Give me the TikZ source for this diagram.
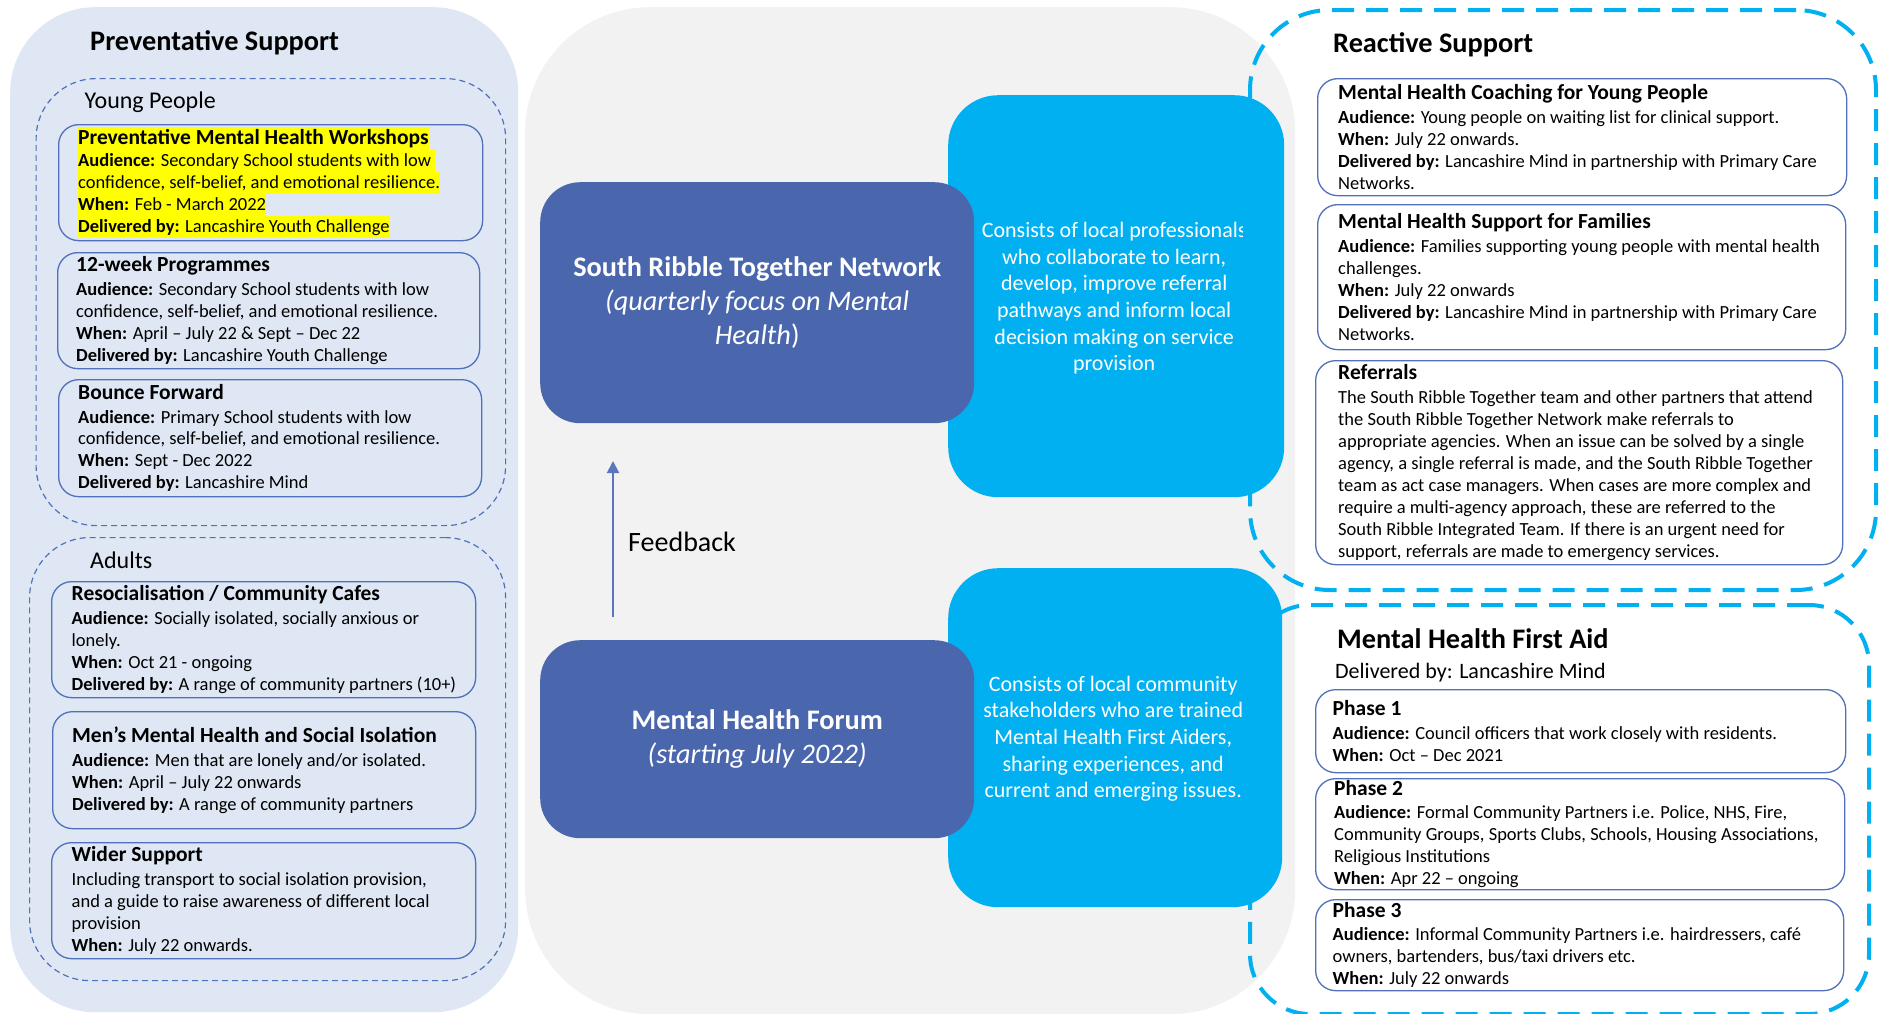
\documentclass[tikz,border=0pt]{standalone}
\usepackage{fontspec}
\setmainfont{Carlito}
\usetikzlibrary{arrows.meta}

\definecolor{panelblue}{HTML}{DEE7F3}
\definecolor{midgray}{HTML}{F2F2F2}
\definecolor{cardline}{HTML}{5070BA}
\definecolor{darkblue}{HTML}{4A66AC}
\definecolor{cyanblue}{HTML}{00B0F0}
\definecolor{arrowblue}{HTML}{5B76BE}
\definecolor{hlyellow}{HTML}{FFFF00}

\newcommand\bodyfont{\fontsize{18.5}{22}\selectfont}
\newcommand\cardtitle{\fontsize{21.5}{22}\selectfont\bfseries}
\newcommand\headfont{\fontsize{28.3}{34}\selectfont\bfseries}
\newcommand\subheadfont{\fontsize{24}{29}\selectfont}

% highlighted lines (yellow marker behind the text)
\newcommand\hltitle[1]{{\setlength\fboxsep{0pt}\colorbox{hlyellow}{\rule[-5pt]{0pt}{23pt}#1}}}
\newcommand\hlline[1]{{\setlength\fboxsep{0pt}\colorbox{hlyellow}{\rule[-5.5pt]{0pt}{22pt}#1}}}

\tikzset{
  panel/.style={anchor=north west, inner sep=0pt, draw=none},
  cardbox/.style={anchor=north west, inner sep=0pt, draw=cardline, line width=1.3pt, rounded corners=20pt},
  cardtext/.style={anchor=west, inner sep=0pt, align=left, font=\bodyfont, text=black},
  groupframe/.style={anchor=north west, inner sep=0pt, draw=cardline, line width=1.2pt,
    dash pattern=on 6pt off 4pt, rounded corners=60pt},
  cyanframe/.style={anchor=north west, inner sep=0pt, draw=cyanblue, line width=4pt,
    dash pattern=on 22pt off 12pt},
  darkbox/.style={anchor=north west, inner sep=0pt, fill=darkblue, rounded corners=40pt,
    text=white, align=center, font=\fontsize{28.3}{34}\selectfont},
  cyanbox/.style={anchor=north west, inner sep=0pt, fill=cyanblue, rounded corners=50pt},
  infotext/.style={inner sep=0pt, text=white, align=center, font=\fontsize{22}{26.7}\selectfont},
  heading/.style={anchor=base west, inner sep=0pt, font=\headfont},
  subheading/.style={anchor=base west, inner sep=0pt, font=\subheadfont},
  fbarrow/.style={draw=arrowblue, line width=2pt, -{Triangle[width=12pt,length=12pt]}},
}

% \card{name}{x}{y}{width}{height}{left padding}{text}
\newcommand\card[7]{%
  \node[cardbox, minimum width=#4pt, minimum height=#5pt] (#1) at (#2,#3) {};
  \node[cardtext] (#1-t) at ([xshift=#6pt]#1.west) {#7};
}

\begin{document}
\begin{tikzpicture}[x=1pt,y=-1pt]
\useasboundingbox (0,0) rectangle (1879,1013);
\fill[white] (0,0) rectangle (1879,1013);

% ---------- background panels ----------
\node[panel, fill=panelblue, minimum width=508pt, minimum height=1005pt, rounded corners=85pt] (prev) at (10,7) {};
\node[panel, fill=midgray, minimum width=770pt, minimum height=1007pt, rounded corners=125pt] (hub) at (525,7) {};

% ---------- preventative support ----------
\node[heading] (prev-title) at (90,50) {Preventative Support};

\node[groupframe, minimum width=469.5pt, minimum height=447pt] (young) at (35.5,78) {};
\node[subheading] (young-title) at (84.5,108) {Young People};

\card{yp1}{58}{124}{424}{116}{20}{%
  \hltitle{\cardtitle Preventative Mental Health Workshops}\\
  \hlline{\textbf{Audience:} Secondary School students with low\ }\\
  \hlline{confidence, self-belief, and emotional resilience.}\\
  \hlline{\textbf{When:} Feb - March 2022}\\
  \hlline{\textbf{Delivered by:} Lancashire Youth Challenge}}

\card{yp2}{57}{252}{422}{116}{19}{%
  {\cardtitle 12-week Programmes}\\[1.5pt]
  \textbf{Audience:} Secondary School students with low\\
  confidence, self-belief, and emotional resilience.\\
  \textbf{When:} April – July 22 \& Sept – Dec 22\\
  \textbf{Delivered by:} Lancashire Youth Challenge}

\card{yp3}{58}{379}{423}{117}{20}{%
  {\cardtitle Bounce Forward}\\[1.5pt]
  \textbf{Audience:} Primary School students with low\\
  confidence, self-belief, and emotional resilience.\\
  \textbf{When:} Sept - Dec 2022\\
  \textbf{Delivered by:} Lancashire Mind}

\node[groupframe, minimum width=476pt, minimum height=443pt] (adults) at (29,537) {};
\node[subheading] (adults-title) at (90,568) {Adults};

\card{ad1}{51}{581}{424}{116}{20.5}{%
  {\cardtitle Resocialisation / Community Cafes}\\[1.5pt]
  \textbf{Audience:} Socially isolated, socially anxious or\\
  lonely.\\
  \textbf{When:} Oct 21 - ongoing\\
  \textbf{Delivered by:} A range of community partners (10+)}

\card{ad2}{52}{711}{423}{117}{20}{%
  {\cardtitle Men’s Mental Health and Social Isolation}\\[1.5pt]
  \textbf{Audience:} Men that are lonely and/or isolated.\\
  \textbf{When:} April – July 22 onwards\\
  \textbf{Delivered by:} A range of community partners}

\card{ad3}{51}{842}{424}{116}{20.5}{%
  {\cardtitle Wider Support}\\[1.5pt]
  Including transport to social isolation provision,\\
  and a guide to raise awareness of different local\\
  provision\\
  \textbf{When:} July 22 onwards.}

% ---------- reactive support and first aid frames ----------
\node[cyanframe, rounded corners=80pt, minimum width=626pt, minimum height=580pt] (reactive) at (1248,8) {};
\node[cyanframe, rounded corners=60pt, minimum width=619pt, minimum height=409pt] (mhfa) at (1248,603) {};

% ---------- hub: network and forum ----------
\node[cyanbox, minimum width=336pt, minimum height=402pt] (srtn-info) at (948,95) {};
\begin{scope}
  \clip (948,95) rectangle (1242,497);
  \node[infotext] (srtn-info-t) at ([xshift=-2pt,yshift=-2pt]srtn-info.center) {%
    Consists of local professionals\\
    who collaborate to learn,\\
    develop, improve referral\\
    pathways and inform local\\
    decision making on service\\
    provision};
\end{scope}

\node[cyanbox, minimum width=334pt, minimum height=339pt] (forum-info) at (948,568) {};
\node[infotext] (forum-info-t) at ([xshift=-2pt,yshift=-1pt]forum-info.center) {%
  Consists of local community\\
  stakeholders who are trained\\
  Mental Health First Aiders,\\
  sharing experiences, and\\
  current and emerging issues.};

\node[darkbox, minimum width=434pt, minimum height=241pt] (srtn) at (540,182) {%
  \textbf{South Ribble Together Network}\\
  \textit{(quarterly focus on Mental}\\
  \textit{Health})};

\node[darkbox, minimum width=434pt, minimum height=198pt] (forum) at (540,640) {%
  \textbf{Mental Health Forum}\\
  \textit{(starting July 2022)}};

\coordinate (fb-foot) at (613,617);
\coordinate (fb-tip) at (613,461);
\draw[fbarrow] (fb-foot) -- (fb-tip);
\node[anchor=base west, inner sep=0pt, font=\fontsize{28}{34}\selectfont] (fb-label) at (628,551) {Feedback};

% ---------- reactive support ----------
\node[heading] (reactive-title) at (1333,52) {Reactive Support};

\card{rs1}{1317}{78}{529}{117}{21}{%
  {\cardtitle Mental Health Coaching for Young People}\\[1.5pt]
  \textbf{Audience:} Young people on waiting list for clinical support.\\
  \textbf{When:} July 22 onwards.\\
  \textbf{Delivered by:} Lancashire Mind in partnership with Primary Care\\
  Networks.}

\card{rs2}{1317}{204}{528}{145}{21}{%
  {\cardtitle Mental Health Support for Families}\\[1.5pt]
  \textbf{Audience:} Families supporting young people with mental health\\
  challenges.\\
  \textbf{When:} July 22 onwards\\
  \textbf{Delivered by:} Lancashire Mind in partnership with Primary Care\\
  Networks.}

\card{rs3}{1315}{360}{527}{204}{23}{%
  {\cardtitle Referrals}\\[1.5pt]
  The South Ribble Together team and other partners that attend\\
  the South Ribble Together Network make referrals to\\
  appropriate agencies. When an issue can be solved by a single\\
  agency, a single referral is made, and the South Ribble Together\\
  team as act case managers. When cases are more complex and\\
  require a multi-agency approach, these are referred to the\\
  South Ribble Integrated Team. If there is an urgent need for\\
  support, referrals are made to emergency services.}

% ---------- mental health first aid ----------
\node[heading] (mhfa-title) at (1337,648) {Mental Health First Aid};
\node[anchor=base west, inner sep=0pt, font=\fontsize{22}{27}\selectfont] (mhfa-sub) at (1335,678) {Delivered by: Lancashire Mind};

\card{ph1}{1315}{689}{530}{83}{17.5}{%
  {\cardtitle Phase 1}\\[1.5pt]
  \textbf{Audience:} Council officers that work closely with residents.\\
  \textbf{When:} Oct – Dec 2021}

\card{ph2}{1315}{778}{529}{111}{19}{%
  {\cardtitle Phase 2}\\[1.5pt]
  \textbf{Audience:} Formal Community Partners i.e. Police, NHS, Fire,\\
  Community Groups, Sports Clubs, Schools, Housing Associations,\\
  Religious Institutions\\
  \textbf{When:} Apr 22 – ongoing}

\card{ph3}{1315}{899}{528}{91}{17.5}{%
  {\cardtitle Phase 3}\\[1.5pt]
  \textbf{Audience:} Informal Community Partners i.e. hairdressers, café\\
  owners, bartenders, bus/taxi drivers etc.\\
  \textbf{When:} July 22 onwards}

\end{tikzpicture}
\end{document}
